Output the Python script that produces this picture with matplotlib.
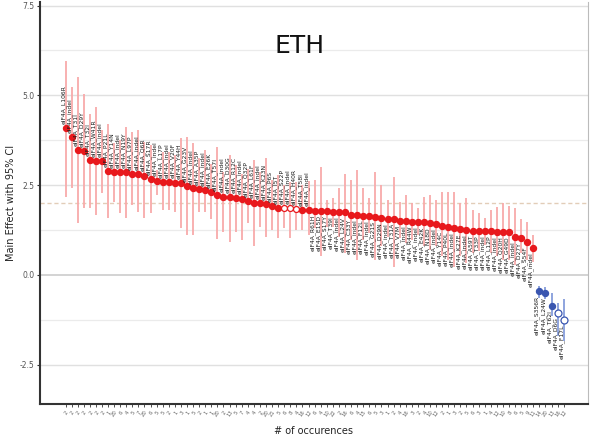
import matplotlib
matplotlib.use("Agg")
import matplotlib.pyplot as plt
import numpy as np

# ---------------- data ----------------
red_effect = [4.09, 3.83, 3.47, 3.45, 3.19, 3.16, 3.16, 2.89, 2.85, 2.85,
              2.85, 2.80, 2.80, 2.76, 2.66, 2.62, 2.58, 2.58, 2.57, 2.55,
              2.46, 2.42, 2.38, 2.36, 2.31, 2.22, 2.18, 2.16, 2.15, 2.12,
              2.06, 2.01, 1.99, 1.97, 1.92, 1.85, 1.85, 1.85, 1.82, 1.80,
              1.80, 1.78, 1.78, 1.78, 1.76, 1.76, 1.74, 1.67, 1.67, 1.65,
              1.64, 1.62, 1.57, 1.56, 1.56, 1.51, 1.51, 1.48, 1.48, 1.46,
              1.45, 1.42, 1.36, 1.32, 1.30, 1.27, 1.25, 1.23, 1.22, 1.22,
              1.21, 1.20, 1.20, 1.18, 1.06, 1.02, 0.91, 0.76]
red_upper = [5.97, 5.23, 5.51, 5.05, 4.49, 4.68, 4.03, 4.19, 3.66, 3.75,
             4.12, 3.98, 4.03, 3.70, 3.61, 2.92, 3.43, 3.43, 3.33, 3.80,
             3.85, 3.68, 3.24, 3.47, 3.10, 3.55, 2.87, 3.33, 3.06, 2.82,
             2.96, 3.19, 2.87, 3.24, 2.64, 2.78, 2.50, 2.59, 2.59, 2.50,
             2.60, 2.64, 3.01, 2.08, 2.13, 2.41, 2.82, 2.64, 2.92, 2.41,
             2.13, 2.87, 2.50, 2.08, 2.73, 2.04, 2.22, 1.99, 1.85, 2.18,
             2.22, 2.08, 2.31, 2.31, 2.31, 1.99, 2.13, 1.81, 1.73, 1.57,
             1.81, 1.90, 1.99, 1.92, 1.85, 1.55, 1.48, 1.11]
red_lower = [2.18, 2.41, 1.43, 1.85, 1.85, 1.67, 2.27, 1.57, 2.04, 1.71,
             1.57, 1.94, 1.76, 1.57, 1.71, 2.22, 1.81, 1.81, 1.76, 1.30,
             1.10, 1.11, 1.76, 1.76, 1.55, 1.00, 1.20, 0.90, 1.20, 0.97,
             1.43, 0.79, 1.34, 1.06, 1.25, 1.02, 1.30, 1.02, 1.25, 1.25,
             1.10, 1.30, 0.51, 1.34, 1.34, 1.06, 0.60, 0.97, 0.42, 0.97,
             1.16, 0.42, 0.79, 1.06, 0.23, 1.02, 0.88, 0.97, 1.11, 0.79,
             0.69, 0.79, 0.51, 0.42, 0.23, 0.51, 0.32, 0.60, 0.65, 0.83,
             0.60, 0.51, 0.42, 0.42, 0.28, 0.60, 0.42, 0.37]
red_hollow = [36, 37, 38]

blue_effect = [-0.46, -0.51, -0.86, -1.06, -1.27]
blue_upper = [-0.30, -0.34, -0.51, -0.79, -0.67]
blue_lower = [-0.64, -0.68, -1.16, -1.71, -1.85]
blue_hollow = [3, 4]

mutation_labels = [
    "eIF4A_L106R", "eIF4A_indel", "eIF4A_T31I", "eIF4A_D29Y", "eIF4A_T32I",
    "eIF4A_W41R", "eIF4A_indel", "eIF4A_P21L", "eIF4A_Y14N", "eIF4A_indel",
    "eIF4A_N19Y", "eIF4A_L97P", "eIF4A_indel", "eIF4A_Q6R", "eIF4A_S17R",
    "eIF4A_indel", "eIF4A_L17P", "eIF4A_indel", "eIF4A_V20F", "eIF4A_Y44H",
    "eIF4A_G23V", "eIF4A_indel", "eIF4A_A35P", "eIF4A_indel", "eIF4A_E26K",
    "eIF4A_T57I", "eIF4A_indel", "eIF4A_D30G", "eIF4A_R12C", "eIF4A_indel",
    "eIF4A_Q32P", "eIF4A_L61F", "eIF4A_indel", "eIF4A_K23N", "eIF4A_P6S",
    "eIF4A_I5T", "eIF4A_S22P", "eIF4A_indel", "eIF4A_H40R", "eIF4A_T58I",
    "eIF4A_indel", "eIF4A_R61H", "eIF4A_E15D", "eIF4A_S17Y", "eIF4A_T39I",
    "eIF4A_indel", "eIF4A_L24V", "eIF4A_C33Y", "eIF4A_indel", "eIF4A_F12L",
    "eIF4A_indel", "eIF4A_G21S", "eIF4A_D29N", "eIF4A_indel", "eIF4A_T31A",
    "eIF4A_V7M", "eIF4A_indel", "eIF4A_R44W", "eIF4A_indel", "eIF4A_E42K",
    "eIF4A_N18D", "eIF4A_indel", "eIF4A_Y14C", "eIF4A_P40L", "eIF4A_indel",
    "eIF4A_K27E", "eIF4A_indel", "eIF4A_A59T", "eIF4A_T33P", "eIF4A_indel",
    "eIF4A_L12P", "eIF4A_indel", "eIF4A_Q20H", "eIF4A_G49D", "eIF4A_indel",
    "eIF4A_D27Y", "eIF4A_S54F", "eIF4A_indel",
    "eIF4A_S356R", "eIF4A_L24W", "eIF4A_T62I", "eIF4A_D6G", "eIF4A_F17L"]

occurrences = ["2", "2", "2", "2", "2", "2", "2", "1", "20", "6",
               "4", "5", "7", "20", "6", "5", "5", "2", "1", "3",
               "1", "5", "2", "1", "1", "20", "2", "13", "5", "7",
               "4", "4", "2", "20", "21", "5", "6", "8", "4", "16",
               "12", "6", "4", "10", "22", "2", "16", "6", "4", "15",
               "6", "5", "3", "1", "2", "4", "16", "3", "2", "4",
               "10", "12", "2", "1", "3", "2", "5", "6", "3", "1",
               "4", "12", "10", "8", "6", "5", "9", "11", "14",
               "20", "13", "16", "12"]

# ---------------- figure ----------------
fig = plt.figure(figsize=(5.9, 4.4), dpi=100)
ax = fig.add_axes([40 / 590, 1 - 404 / 440, 548 / 590, 402 / 440])

n_red = len(red_effect)
x_red = np.arange(n_red)
x_blue = np.arange(n_red, n_red + len(blue_effect))

red_c = "#E8181C"
red_bar = "#F8AAAA"
blue_c = "#3A56B0"
blue_bar = "#7C95D8"

# grid
for y in [-1.25, 1.25, 3.75, 6.25]:
    ax.axhline(y, color="#EBEBEB", lw=0.9, zorder=0)
for y in [-2.5, 2.5, 5.0, 7.5]:
    ax.axhline(y, color="#E0E0E0", lw=1.0, zorder=0)
ax.axhline(0.0, color="#D0D0D0", lw=1.3, zorder=0)
ax.axhline(2.0, color="#E2CDB8", lw=1.0, ls=(0, (3, 2)), zorder=0.5)

# error bars
ax.vlines(x_red, red_lower, red_upper, color=red_bar, lw=1.3, zorder=1)
ax.vlines(x_blue, blue_lower, blue_upper, color=blue_bar, lw=1.2, zorder=1)

# points
for i, (x, y) in enumerate(zip(x_red, red_effect)):
    if i in red_hollow:
        ax.plot(x, y, "o", ms=4.3, mfc="white", mec=red_c, mew=0.9, zorder=3)
    else:
        ax.plot(x, y, "o", ms=4.3, color=red_c, zorder=3)
for i, (x, y) in enumerate(zip(x_blue, blue_effect)):
    if i in blue_hollow:
        ax.plot(x, y, "o", ms=5, mfc="white", mec=blue_c, mew=0.9, zorder=3)
    else:
        ax.plot(x, y, "o", ms=4.3, color=blue_c, zorder=3)

# point labels
all_x = list(x_red) + list(x_blue)
all_y = list(red_effect) + list(blue_effect)
for i, (x, y, lab) in enumerate(zip(all_x, all_y, mutation_labels)):
    if i <= 40:
        ax.text(x - 0.35, y + 0.12, lab, rotation=90, ha="center", va="bottom",
                fontsize=4.3, color="#1A1A1A", zorder=4)
    else:
        ax.text(x - 0.35, y - 0.12, lab, rotation=90, ha="center", va="top",
                fontsize=4.3, color="#1A1A1A", zorder=4)

ax.set_xlim(-4.2, 86.0)
ax.set_ylim(-3.6, 7.6)

ax.set_yticks([-2.5, 0.0, 2.5, 5.0, 7.5])
ax.set_yticklabels(["-2.5", "0.0", "2.5", "5.0", "7.5"], fontsize=5.5, color="#555555")
ax.set_xticks(all_x)
ax.set_xticklabels(occurrences, rotation=55, fontsize=3.8, color="#666666",
                   ha="right", rotation_mode="anchor")
ax.tick_params(axis="y", length=2.5, width=0.8, color="#333333", pad=1.5)
ax.tick_params(axis="x", length=2.5, width=0.6, color="#333333", pad=1.5)

for side in ["left", "bottom"]:
    ax.spines[side].set_color("#333333")
    ax.spines[side].set_linewidth(1.5)
ax.spines["right"].set_color("#BBBBBB")
ax.spines["right"].set_linewidth(0.8)
ax.spines["top"].set_visible(False)

ax.set_ylabel("Main Effect with 95% CI", fontsize=7, color="#222222", labelpad=3)
ax.set_xlabel("# of occurences", fontsize=7, color="#222222", labelpad=6)

fig.text(300 / 590, 1 - 46 / 440, "ETH", fontsize=18, ha="center", va="center",
         color="#111111")

fig.savefig("out.png", dpi=100)
